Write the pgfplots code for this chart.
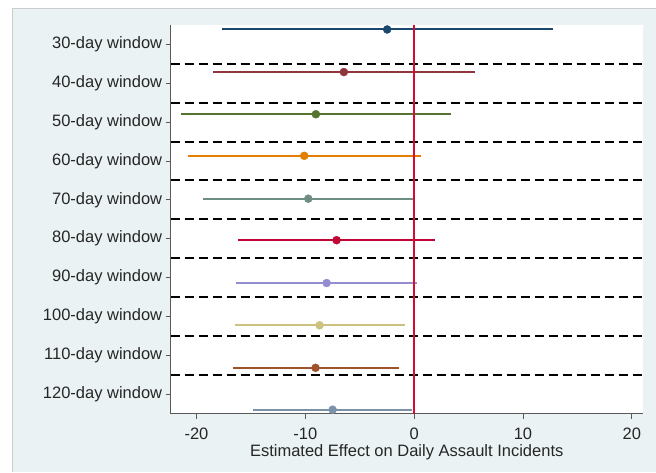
\documentclass[border=0pt]{standalone}
\usepackage{fontspec}
\setmainfont{Liberation Sans}
\usepackage{pgfplots}
\pgfplotsset{compat=1.18}
\definecolor{bgcol}{HTML}{EAF2F3}
\definecolor{c1}{HTML}{1A476F}
\definecolor{c2}{HTML}{90353B}
\definecolor{c3}{HTML}{55752F}
\definecolor{c4}{HTML}{E37E00}
\definecolor{c5}{HTML}{6E8E84}
\definecolor{c6}{HTML}{C10534}
\definecolor{c7}{HTML}{938DD2}
\definecolor{c8}{HTML}{CAC27E}
\definecolor{c9}{HTML}{A0522D}
\definecolor{c10}{HTML}{7B92A8}
\definecolor{refred}{RGB}{215,10,50}
\newcommand{\ci}[5]{%
  \addplot[#1, line width=2pt, forget plot] coordinates {(#3,#2) (#5,#2)};
  \addplot[#1, only marks, mark=*, mark size=4pt, forget plot] coordinates {(#4,#2)};
}
\begin{document}
\begin{tikzpicture}[x=1pt,y=1pt]
\path[use as bounding box] (0,0) rectangle (656,472);
\fill[white] (0,0) rectangle (656,472);
\fill[bgcol] (12,0) rectangle (656,464);
\draw[black!20, line width=0.6pt] (12,0) -- (12,464) -- (656,464);
\begin{axis}[
  at={(170.7pt,58.5pt)}, anchor=south west,
  scale only axis, width=472pt, height=388.5pt,
  xmin=-22.37, xmax=21.0, ymin=0.5, ymax=10.5, y dir=reverse,
  axis background/.style={fill=white},
  axis x line*=bottom, axis y line*=left,
  axis line style={black!65, line width=0.8pt},
  tick align=outside, major tick length=5pt,
  tick style={black!65, line width=0.8pt},
  xtick={-20,-10,0,10,20},
  ytick={1,...,10},
  yticklabels={30-day window,40-day window,50-day window,60-day window,70-day window,80-day window,90-day window,100-day window,110-day window,120-day window},
  extra y ticks={1.5,2.5,3.5,4.5,5.5,6.5,7.5,8.5,9.5},
  extra y tick labels={},
  extra y tick style={major tick length=0pt, grid=major, major grid style={black, line width=2pt, dash pattern=on 9pt off 5pt}},
  ticklabel style={font=\fontsize{16.5}{18}\selectfont, text=black!85},
  xticklabel style={yshift=-6pt},
  /pgf/number format/assume math mode=true,
  xlabel={Estimated Effect on Daily Assault Incidents},
  xlabel style={font=\fontsize{16.5}{18}\selectfont, text=black!85, yshift=2pt},
  clip=false,
]
\ci{c1}{0.615}{-17.69}{-2.48}{12.76}
\ci{c2}{1.711}{-18.46}{-6.46}{5.60}
\ci{c3}{2.797}{-21.42}{-9.03}{3.37}
\ci{c4}{3.867}{-20.75}{-10.10}{0.62}
\ci{c5}{4.971}{-19.38}{-9.73}{-0.15}
\ci{c6}{6.039}{-16.16}{-7.13}{1.90}
\ci{c7}{7.142}{-16.40}{-8.04}{0.25}
\ci{c8}{8.230}{-16.49}{-8.69}{-0.85}
\ci{c9}{9.324}{-16.68}{-9.06}{-1.40}
\ci{c10}{10.402}{-14.84}{-7.49}{-0.18}
\addplot[refred, line width=1.5pt, forget plot] coordinates {(0,0.5) (0,10.5)};
\end{axis}
\end{tikzpicture}
\end{document}
